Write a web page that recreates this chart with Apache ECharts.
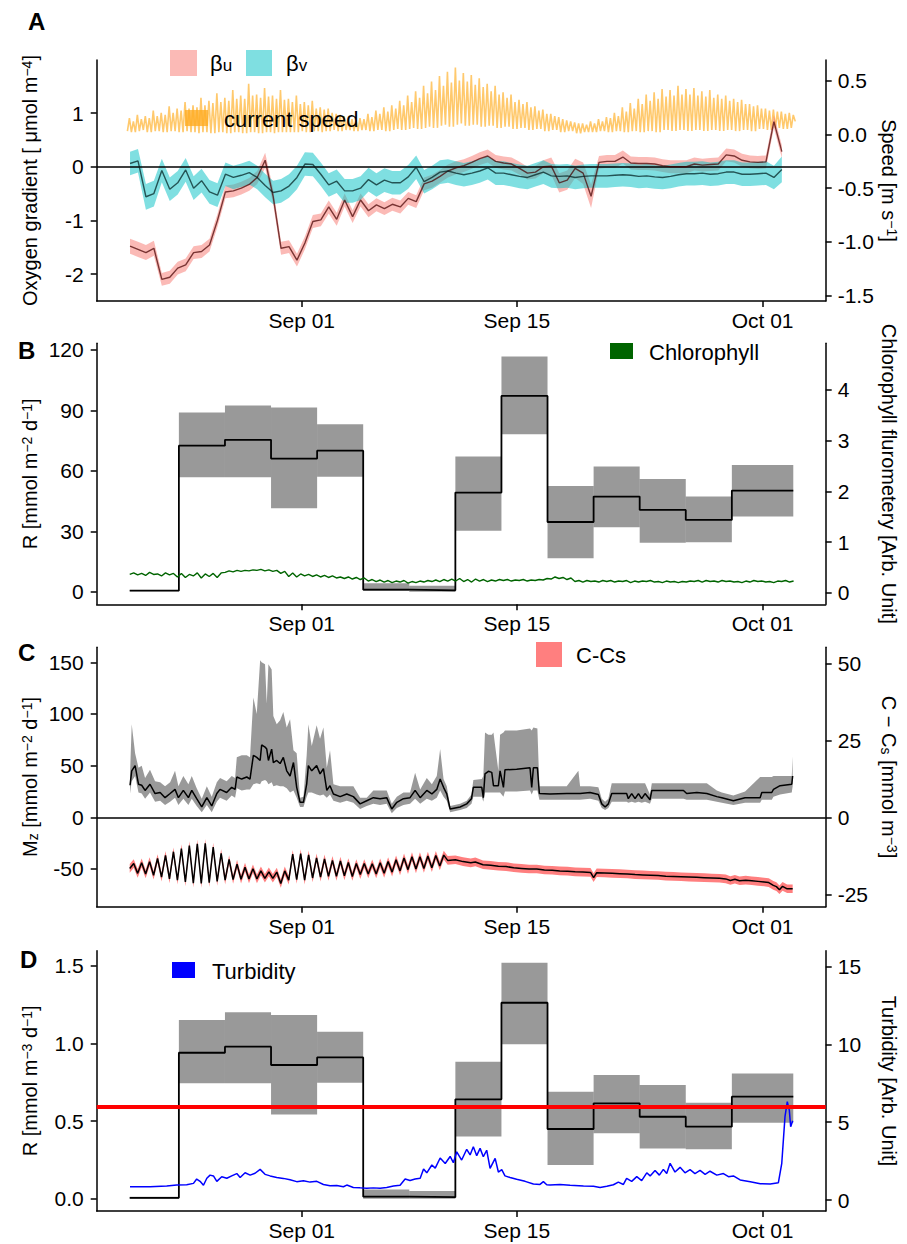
<!DOCTYPE html>
<html><head><meta charset="utf-8">
<script src="https://cdn.jsdelivr.net/npm/echarts@6/dist/echarts.min.js"></script>
<style>html,body{margin:0;padding:0;background:#fff}#c{width:907px;height:1244px}</style>
</head><body><div id="c"></div>
<script>
// ================= DATA (days relative to Sep 01) =================
const xTickDays = [0, 14, 30];
const xTickLabels = ['Sep 01', 'Sep 15', 'Oct 01'];

// Panel A: tidal-cycle regression coefficients (one value per M2 cycle)
const betaStart = -11.18, betaStep = 0.5175;
const betaU = [-1.48,-1.54,-1.60,-1.52,-2.10,-2.06,-1.89,-1.83,-1.60,-1.58,-1.46,-1.00,-0.47,-0.45,-0.40,-0.33,-0.20,0.12,-0.55,-1.52,-1.49,-1.74,-1.42,-1.02,-0.99,-0.75,-0.98,-0.62,-0.93,-0.62,-0.82,-0.71,-0.78,-0.70,-0.75,-0.59,-0.65,-0.32,-0.27,-0.18,-0.08,-0.02,
  0.02,0.08,0.15,0.20,0.10,0.07,0.05,-0.03,-0.12,-0.10,0.00,0.01,-0.30,-0.25,-0.03,-0.12,-0.55,0.08,0.10,0.10,0.18,0.07,0.06,0.06,0.05,0.02,0.00,0.00,0.00,0.05,0.03,0.04,0.05,0.22,0.20,0.12,0.09,0.08,0.09,0.84,0.28];
const betaUErr = [0.14,0.14,0.14,0.14,0.12,0.12,0.12,0.12,0.12,0.12,0.12,0.12,0.12,0.12,0.12,0.12,0.12,0.14,0.14,0.12,0.12,0.12,0.12,0.12,0.12,0.12,0.12,0.12,0.12,0.12,0.12,0.12,0.12,0.12,0.12,0.12,0.12,0.12,0.12,0.12,0.12,0.12,
  0.12,0.12,0.12,0.12,0.12,0.12,0.12,0.12,0.12,0.12,0.12,0.16,0.18,0.18,0.18,0.20,0.22,0.12,0.12,0.12,0.12,0.12,0.12,0.12,0.12,0.12,0.12,0.12,0.12,0.12,0.12,0.12,0.12,0.12,0.12,0.12,0.12,0.12,0.12,0.12,0.12];
const betaV = [0.06,0.11,-0.56,-0.50,-0.07,-0.42,-0.30,-0.06,-0.40,-0.26,-0.47,-0.53,-0.14,-0.20,-0.16,-0.11,-0.20,-0.35,-0.48,-0.45,-0.36,-0.20,0.05,0.04,-0.14,-0.34,-0.27,-0.45,-0.45,-0.40,-0.24,-0.34,-0.25,-0.30,-0.30,-0.19,-0.01,-0.28,-0.20,-0.10,-0.08,-0.12,
  -0.15,-0.12,-0.08,-0.02,-0.12,-0.12,-0.15,-0.18,-0.20,-0.15,-0.10,-0.17,-0.18,-0.17,-0.20,-0.18,-0.17,-0.17,-0.17,-0.16,-0.15,-0.16,-0.18,-0.17,-0.19,-0.20,-0.18,-0.15,-0.13,-0.13,-0.12,-0.14,-0.13,-0.10,-0.10,-0.14,-0.14,-0.13,-0.12,-0.20,-0.05];
const betaVErr = [0.22,0.22,0.24,0.24,0.22,0.22,0.22,0.22,0.22,0.22,0.22,0.22,0.22,0.22,0.22,0.22,0.22,0.22,0.22,0.22,0.22,0.22,0.22,0.22,0.22,0.22,0.22,0.22,0.22,0.22,0.22,0.22,0.22,0.22,0.22,0.22,0.22,0.22,0.22,0.22,0.22,0.22,
  0.22,0.22,0.22,0.22,0.22,0.22,0.22,0.22,0.22,0.22,0.22,0.22,0.22,0.22,0.22,0.22,0.22,0.22,0.22,0.22,0.22,0.22,0.22,0.22,0.22,0.22,0.22,0.22,0.22,0.22,0.22,0.22,0.22,0.22,0.22,0.22,0.22,0.22,0.22,0.22,0.24];

// Panel A: current speed, quarter tidal-cycle extremes (slack / flood / slack / ebb)
const speedStart = -11.35, speedStep = 0.1294;
const speed = [
  0.03,0.15,0.02,0.12, 0.02,0.18,0.03,0.14, 0.04,0.17,0.02,0.15, 0.02,0.22,0.03,0.17, 0.03,0.20,0.02,0.18,
  0.02,0.26,0.03,0.20, 0.03,0.24,0.02,0.22, 0.02,0.30,0.03,0.24, 0.02,0.27,0.02,0.25, 0.01,0.34,0.02,0.27,
  0.02,0.31,0.01,0.29, 0.01,0.38,0.02,0.30, 0.02,0.34,0.01,0.31, 0.01,0.41,0.02,0.33, 0.02,0.36,0.01,0.33,
  0.01,0.47,0.02,0.36, 0.02,0.37,0.01,0.34, 0.01,0.43,0.02,0.35, 0.02,0.36,0.01,0.33, 0.02,0.41,0.02,0.32,
  0.02,0.33,0.02,0.30, 0.02,0.36,0.02,0.28, 0.03,0.30,0.02,0.27, 0.02,0.31,0.03,0.24, 0.03,0.25,0.02,0.23,
  0.03,0.24,0.03,0.20, 0.04,0.19,0.03,0.18, 0.03,0.17,0.04,0.15, 0.04,0.14,0.03,0.13, 0.03,0.15,0.04,0.14,
  0.04,0.19,0.03,0.16, 0.03,0.22,0.04,0.19, 0.04,0.25,0.03,0.21, 0.03,0.27,0.04,0.24, 0.05,0.31,0.04,0.27,
  0.04,0.36,0.05,0.30, 0.06,0.40,0.05,0.34, 0.05,0.45,0.06,0.38, 0.07,0.49,0.06,0.41, 0.06,0.54,0.08,0.45,
  0.09,0.58,0.07,0.48, 0.07,0.62,0.09,0.50, 0.10,0.57,0.08,0.49, 0.08,0.55,0.09,0.46, 0.09,0.52,0.07,0.44,
  0.07,0.47,0.08,0.40, 0.08,0.45,0.06,0.37, 0.06,0.39,0.07,0.34, 0.07,0.37,0.05,0.30, 0.05,0.32,0.06,0.28,
  0.06,0.30,0.04,0.25, 0.04,0.26,0.05,0.22, 0.05,0.23,0.03,0.19, 0.03,0.19,0.04,0.17, 0.04,0.16,0.02,0.14,
  0.02,0.13,0.03,0.12, 0.03,0.11,0.01,0.10, 0.01,0.10,0.02,0.09, 0.02,0.12,0.02,0.10, 0.02,0.14,0.03,0.12,
  0.03,0.16,0.02,0.15, 0.02,0.20,0.03,0.17, 0.03,0.25,0.02,0.21, 0.02,0.29,0.03,0.24, 0.03,0.33,0.02,0.28,
  0.02,0.37,0.03,0.31, 0.03,0.39,0.02,0.33, 0.02,0.42,0.04,0.35, 0.04,0.41,0.03,0.36, 0.03,0.45,0.04,0.37,
  0.04,0.42,0.03,0.37, 0.03,0.43,0.04,0.36, 0.04,0.40,0.03,0.35, 0.03,0.41,0.04,0.34, 0.04,0.37,0.03,0.33,
  0.03,0.36,0.04,0.31, 0.04,0.33,0.03,0.30, 0.03,0.32,0.04,0.28, 0.04,0.28,0.03,0.26, 0.03,0.27,0.05,0.24,
  0.05,0.24,0.04,0.22, 0.04,0.23,0.06,0.21, 0.06,0.21,0.05,0.19, 0.05,0.20,0.06,0.18,
  0.12];

// 3-day periods for R estimates (panels B and D)
const periodBounds = [-11.2, -8, -5, -2, 1, 4, 7, 10, 13, 16, 19, 22, 25, 28, 32];
const respB   = [0.5, 72.5, 75.4, 66.1, 70.0, 1.0, 0.7, 49.2, 97.2, 34.6, 47.2, 40.6, 35.6, 50.2];
const respBLo = [0.2, 56.8, 56.8, 41.4, 57.1, 0.3, 0.0, 30.3, 78.2, 16.6, 32.0, 24.3, 24.5, 37.3];
const respBHi = [0.8, 88.9, 92.4, 91.4, 83.1, 4.2, 3.0, 67.1, 116.7, 52.5, 62.1, 56.0, 47.2, 62.9];

// Panel B: chlorophyll fluorometry
const chlStart = -11.2, chlStep = 0.2588;
const chl = [0.36,0.39,0.35,0.38,0.34,0.40,0.36,0.37,0.33,0.39,0.35,0.38,
  0.31,0.38,0.30,0.36,0.33,0.39,0.29,0.37,0.32,0.38,0.30,0.39,
  0.40,0.43,0.41,0.44,0.42,0.44,0.43,0.45,0.44,0.46,0.43,0.45,0.42,0.44,
  0.38,0.42,0.32,0.39,0.31,0.37,0.33,0.36,0.32,0.35,
  0.31,0.34,0.30,0.33,0.29,0.31,0.28,0.31,0.27,0.30,0.26,0.29,
  0.23,0.26,0.22,0.25,0.21,0.24,0.20,0.23,0.21,0.24,0.19,0.22,0.20,0.23,0.21,0.24,0.22,0.25,0.22,0.26,0.23,0.27,
  0.23,0.28,0.22,0.26,0.21,0.27,0.23,0.26,0.22,0.25,0.23,0.26,0.24,0.26,0.23,0.25,0.24,0.26,0.23,0.25,0.24,0.26,
  0.25,0.28,0.27,0.31,0.28,0.30,0.26,0.29,
  0.22,0.24,0.21,0.24,0.22,0.23,0.21,0.24,0.22,0.24,0.21,0.23,0.22,0.24,0.20,0.23,0.21,0.23,0.22,0.24,0.21,0.22,0.20,0.23,0.21,0.22,0.20,0.22,
  0.21,0.23,0.22,0.24,0.21,0.24,0.22,0.23,0.21,0.24,0.22,0.23,0.21,0.22,0.20,0.23,0.21,0.24,0.22,0.23,0.21,0.22,0.20,0.23,0.22,0.24,0.21,0.23];

// Panel C: Mz flux with uncertainty
const mzDay = [-11.18,-11.07,-10.85,-10.63,-10.42,-10.20,-9.88,-9.55,-9.22,-8.90,-8.57,-8.25,-8.03,-7.71,-7.38,-7.16,-6.84,-6.51,-6.18,-5.86,-5.53,-5.32,-4.89,-4.56,-4.34,-4.23,-3.91,-3.58,-3.37,-3.15,-2.93,-2.71,-2.61,-2.39,-2.28,-2.17,-1.96,-1.85,-1.63,-1.41,-1.20,-0.98,-0.76,-0.54,-0.33,-0.11,0.11,0.32,0.43,0.65,0.97,1.19,1.41,1.63,1.84,2.06,2.50,2.93,3.36,3.80,4.23,4.66,5.10,5.53,5.86,6.19,6.62,7.05,7.38,7.71,8.14,8.47,8.79,9.01,9.23,9.44,9.66,
  10.31,10.74,11.05,11.17,11.72,11.82,11.93,12.15,12.37,12.48,12.80,12.91,13.13,13.23,13.99,14.86,14.97,15.08,15.34,15.47,16.16,17.25,18.01,18.12,18.77,19.31,19.53,19.75,19.96,20.18,21.15,21.26,21.48,21.70,21.92,22.13,22.35,22.67,22.79,24.85,25.06,25.72,26.37,27.02,27.35,28.10,28.86,29.84,29.95,30.60,30.71,31.14,31.90,31.96];
const mzVal = [31,45,50,32,31,26,32,23,24,19,23,27,19,26,19,26,18,10,19,11,23,27,24,29,27,39,37,39,37,60,58,55,70,68,66,55,66,53,55,52,58,45,40,53,29,14.5,14.5,32,50,45,50,42,47,26,30.6,22.6,20,22.6,20,13,16,19,18,19,8,14.5,18,19,26,19,26,22.6,27,37,29,22.6,8,
  10,13,18,29,29,19,42,44.5,43.5,30.6,30.6,45,29,46,46.5,48,29,48,48,23,22.6,23,23,23,24,22,13,10,13,23,23,18,23,18,23,18,23,17,26,26,23,24,23,20,19,16,19,19,24,24,27,30.6,32,40];
const mzLo = [23,35,40,24,23,18,24,15,16,12,15,19,12,18,12,18,11,5,12,5,15,19,16,21,19,28,26,27,27,32,33,32,35,36,35,32,34,30,31,30,30,28,24,26,19,10,10,20,24,24,22,21,22,19,22,16,14,16,14,8,11,13,12,13,4,9,12,13,18,13,18,16,19,26,20,16,5,
  7,9,13,20,20,15,24,24,24,24,24,24,20,25,25,26,22,26,26,17,17,17,17,17,18,16,9,7,9,15,15,14,15,14,15,14,15,13,18,18,17,17,17,15,14,12,14,14,17,17,20,22,24,30];
const mzHi = [42,90,62,48,50,38,46,35,34,30,34,45,30,40,32,40,28,18,30,20,34,38,35,40,38,58,60,60,58,116,100,152,150,148,110,148,143,98,90,94,102,87,95,65,62,19,20,60,90,69,89,76,87,48,65,32,30,30,30,19,19,26,26,26,13,20,24,24,43,27,38,32,40,66,37,30,11,
  13,16,22,36,37,40,82,80,80,82,45,80,82,84,84,86,84,87,86,30,30,30,45,30,30,29,18,15,18,33,33,33,33,33,33,33,33,22,33,33,33,33,33,26,24,21,25,39,39,39,40,40,40,59];

// Panel C: C - Cs (tidal extremes first, then hourly-ish values)
const ccsOscStart = -11.2, ccsOscStep = 0.2588;
const ccsOsc = [-16.4,-14.8,-18.0,-14.6,-18.2,-14.2,-18.6,-13.2,-19.2,-12.2,-19.8,-11.0,-20.2,-10.0,-20.8,-9.0,-21.2,-8.4,-21.3,-8.3,
  -21.0,-9.5,-20.6,-11.5,-20.2,-13.5,-20.0,-15.0,-19.9,-16.0,-19.8,-16.5,-19.8,-17.2,-19.6,-17.5,-19.6,-17.6,-21.3,-17.2,
  -20.2,-11.8,-20.0,-11.6,-20.2,-12.0,-19.5,-13.0,-19.2,-13.3,-19.0,-13.8,-19.0,-14.0,-18.8,-14.5,-19.0,-14.8,-18.4,-14.8,
  -18.2,-14.9,-18.2,-14.6,-18.0,-14.2,-17.6,-13.6,-17.2,-13.0,-16.8,-12.6,-16.6,-12.6,-16.4,-12.4,-16.2,-12.2,-15.6,-12.1];
const ccsTailDay = [9.5,10.0,10.5,11.0,11.3,11.8,12.3,12.8,13.3,13.8,14.3,14.8,15.3,15.8,16.3,16.8,17.3,17.8,18.3,18.8,19.0,19.2,19.7,20.2,20.7,21.2,21.7,22.2,22.7,23.2,23.7,24.2,24.7,25.2,25.7,26.2,26.7,27.2,27.6,27.9,28.2,28.5,28.9,29.3,29.7,30.1,30.4,30.7,30.9,31.1,31.3,31.6,31.96];
const ccsTail = [-13.8,-13.6,-14.2,-14.6,-14.3,-15.2,-15.4,-15.7,-15.8,-16.2,-16.4,-16.6,-16.6,-16.9,-17.0,-17.2,-17.3,-17.5,-17.6,-17.7,-19.4,-17.8,-17.9,-18.0,-18.1,-18.2,-18.4,-18.5,-18.6,-18.7,-18.9,-19.0,-19.1,-19.2,-19.3,-19.4,-19.5,-19.6,-19.8,-20.3,-19.9,-20.4,-20.2,-20.4,-20.6,-20.8,-21.0,-21.9,-22.3,-23.3,-22.2,-23.0,-23.0];
const ccsErr = 1.4;

// Panel D: volumetric R per period
const respD   = [0.006, 0.94, 0.979, 0.861, 0.91, 0.013, 0.01, 0.64, 1.262, 0.449, 0.614, 0.528, 0.464, 0.657];
const respDLo = [0.0, 0.743, 0.743, 0.543, 0.747, 0.0, 0.0, 0.40, 0.994, 0.217, 0.421, 0.324, 0.318, 0.489];
const respDHi = [0.012, 1.15, 1.20, 1.183, 1.075, 0.06, 0.05, 0.882, 1.52, 0.689, 0.797, 0.732, 0.618, 0.807];
const respDRef = 0.59;

// Panel D: turbidity
const turbDay = [-11.18,-9.88,-8.79,-8.14,-7.49,-7.05,-6.84,-6.62,-6.40,-6.18,-5.97,-5.75,-5.53,-5.21,-4.88,-4.56,-4.23,-4.01,-3.69,-3.36,-3.04,-2.71,-2.39,-2.06,-1.63,-1.20,-0.76,-0.33,0.11,0.54,0.98,1.41,1.84,2.28,2.71,2.93,3.36,3.80,4.23,4.66,5.10,5.53,5.97,6.40,6.73,7.05,7.38,7.71,7.93,8.14,8.47,8.69,9.01,9.34,9.66,9.87,10.09,10.41,10.74,10.96,11.17,11.39,11.61,11.82,12.04,12.26,12.59,12.80,13.02,13.23,13.56,13.99,14.54,15.08,15.51,15.73,15.95,16.16,16.81,17.47,18.34,18.99,19.42,19.86,20.29,20.61,20.94,21.15,21.48,21.81,22.13,22.46,22.68,23.00,23.28,23.54,23.76,23.98,24.30,24.63,24.95,25.28,25.60,25.93,26.26,26.58,27.02,27.45,27.78,28.10,28.54,29.20,29.85,30.50,31.03,31.25,31.46,31.61,31.74,31.83,31.96];
const turb = [0.86,0.86,0.90,0.96,0.98,1.07,1.35,1.20,0.95,1.40,1.60,1.55,1.20,1.50,1.40,1.55,1.70,1.45,1.75,1.60,1.72,1.97,1.65,1.55,1.45,1.39,1.30,1.18,1.24,1.15,1.20,1.00,0.92,0.93,0.85,0.96,0.80,0.78,0.75,0.78,0.75,0.80,0.90,0.95,1.35,1.25,1.35,1.40,2.00,1.75,2.25,2.05,2.70,2.35,2.80,2.40,3.10,2.57,3.26,2.90,3.43,2.85,3.32,2.78,3.20,2.03,2.68,1.80,1.95,1.55,1.45,1.33,1.20,1.03,1.00,1.18,0.98,0.96,1.00,0.95,0.90,0.88,0.81,0.88,0.98,1.15,1.00,1.39,1.20,1.50,1.25,1.75,1.55,1.90,1.60,1.97,1.70,2.36,1.80,2.10,1.75,1.95,1.70,1.90,1.65,1.85,1.60,1.70,1.50,1.55,1.29,1.18,1.05,1.03,1.11,2.36,5.36,6.32,5.78,4.71,5.10];

// ================= BUILD =================
const FF = '"Liberation Sans", Arial, Helvetica, sans-serif';
const AXC = '#000';
const xMin = -13.35, xMax = 34.11;

function seqDays(start, step, n) { const a = []; for (let i = 0; i < n; i++) a.push(start + i * step); return a; }
function pairs(xs, ys) { return xs.map((x, i) => [x, ys[i]]); }
function stepPts(bounds, vals) { const p = []; vals.forEach((v, i) => { p.push([bounds[i], v]); p.push([bounds[i + 1], v]); }); return p; }

const betaDays = seqDays(betaStart, betaStep, betaU.length);
const speedDays = seqDays(speedStart, speedStep, speed.length);
const chlDays = seqDays(chlStart, chlStep, chl.length);
const ccsDays = seqDays(ccsOscStart, ccsOscStep, ccsOsc.length).concat(ccsTailDay);
const ccsVals = ccsOsc.concat(ccsTail);

function ribbon(xi, yi, xs, lo, hi, fill, z) {
  return { type: 'custom', xAxisIndex: xi, yAxisIndex: yi, silent: true, clip: true, z: z,
    data: [[xs[0], lo[0]]],
    renderItem: function (params, api) {
      if (params.dataIndex !== 0) return null;
      const pts = [];
      for (let i = 0; i < xs.length; i++) pts.push(api.coord([xs[i], hi[i]]));
      for (let i = xs.length - 1; i >= 0; i--) pts.push(api.coord([xs[i], lo[i]]));
      return { type: 'polygon', shape: { points: pts }, style: { fill: fill } };
    } };
}
function rects(xi, yi, bounds, lo, hi, fill, z) {
  return { type: 'custom', xAxisIndex: xi, yAxisIndex: yi, silent: true, clip: true, z: z,
    encode: { x: [0, 1], y: [2, 3] },
    data: lo.map((l, i) => [bounds[i], bounds[i + 1], l, hi[i]]),
    renderItem: function (params, api) {
      const a = api.coord([api.value(0), api.value(3)]);
      const b = api.coord([api.value(1), api.value(2)]);
      return { type: 'rect', shape: { x: a[0], y: a[1], width: b[0] - a[0], height: b[1] - a[1] }, style: { fill: fill } };
    } };
}
function line(xi, yi, data, color, width, z, extra) {
  return Object.assign({ type: 'line', xAxisIndex: xi, yAxisIndex: yi, data: data, showSymbol: false, symbol: 'none',
    lineStyle: { color: color, width: width }, itemStyle: { color: color }, silent: true, clip: true, z: z }, extra || {});
}
function hline(value, color, width) {
  return { symbol: 'none', silent: true, label: { show: false }, animation: false,
    lineStyle: { color: color, width: width, type: 'solid' }, data: [{ yAxis: value }] };
}

const richName = {
  sup: { fontSize: 14, fontFamily: FF, color: '#000', verticalAlign: 'top' },
  sub: { fontSize: 14, fontFamily: FF, color: '#000', verticalAlign: 'bottom' }
};

function xAxisDef(gi) {
  return { type: 'value', gridIndex: gi, min: xMin, max: xMax,
    axisLine: { show: true, onZero: false, lineStyle: { color: AXC, width: 1.5 } },
    axisTick: { show: true, length: 6, customValues: xTickDays, lineStyle: { color: AXC, width: 1.5 } },
    axisLabel: { show: true, customValues: xTickDays, margin: 9, fontSize: 21, fontFamily: FF, color: '#000',
      formatter: function (v) { let k = 0; xTickDays.forEach((d, i) => { if (Math.abs(d - v) < Math.abs(xTickDays[k] - v)) k = i; }); return xTickLabels[k]; } },
    splitLine: { show: false } };
}
function yAxisDef(gi, pos, min, max, ticks, fmt, name) {
  const left = pos === 'left';
  return { type: 'value', gridIndex: gi, position: pos, min: min, max: max,
    axisLine: { show: true, onZero: false, lineStyle: { color: AXC, width: 1.5 } },
    axisTick: { show: true, length: 6, customValues: ticks, lineStyle: { color: AXC, width: 1.5 } },
    axisLabel: { show: true, customValues: ticks, margin: left ? 13 : 12, fontSize: 21, fontFamily: FF, color: '#000', formatter: fmt },
    splitLine: { show: false },
    name: name, nameLocation: 'middle', nameRotate: left ? 90 : -90, nameGap: left ? 57 : 53, nameMoveOverlap: false,
    nameTextStyle: { fontSize: 20, fontFamily: FF, color: '#000', rich: richName } };
}
const fInt = v => String(v);
const f1 = v => v.toFixed(1);

const gridBase = { left: 96.7, right: 81.3, outerBoundsMode: 'none', containLabel: false };
const option = {
  animation: false,
  backgroundColor: '#fff',
  grid: [
    Object.assign({ top: 60, height: 241 }, gridBase),
    Object.assign({ top: 343.3, height: 261 }, gridBase),
    Object.assign({ top: 647.3, height: 259.4 }, gridBase),
    Object.assign({ top: 950.7, height: 260.3 }, gridBase)
  ],
  xAxis: [xAxisDef(0), xAxisDef(1), xAxisDef(2), xAxisDef(3)],
  yAxis: [
    yAxisDef(0, 'left', -2.502, 1.988, [-2, -1, 0, 1], fInt, 'Oxygen gradient [ \u03bcmol m{sup|\u22124}]'),
    yAxisDef(0, 'right', -1.548, 0.690, [-1.5, -1, -0.5, 0, 0.5], f1, 'Speed [m s{sup|\u22121}]'),
    yAxisDef(1, 'left', -6.26, 123.3, [0, 30, 60, 90, 120], fInt, 'R [mmol m{sup|\u22122} d{sup|\u22121}]'),
    yAxisDef(1, 'right', -0.229, 4.92, [0, 1, 2, 3, 4], fInt, 'Chlorophyll flurometery [Arb. Unit]'),
    yAxisDef(2, 'left', -86.5, 164.5, [-50, 0, 50, 100, 150], fInt, 'M{sub|z} [mmol m{sup|\u22122} d{sup|\u22121}]'),
    yAxisDef(2, 'right', -28.8, 55.2, [-25, 0, 25, 50], fInt, 'C \u2212 C{sub|s} [mmol m{sup|\u22123}]'),
    yAxisDef(3, 'left', -0.079, 1.597, [0, 0.5, 1, 1.5], f1, 'R [mmol m{sup|\u22123} d{sup|\u22121}]'),
    yAxisDef(3, 'right', -0.707, 16.03, [0, 5, 10, 15], fInt, 'Turbidity [Arb. Unit]')
  ],
  series: [
    // Panel A
    line(0, 1, pairs(speedDays, speed), 'rgba(255,172,30,0.65)', 1.6, 2),
    ribbon(0, 0, betaDays, betaU.map((v, i) => v - betaUErr[i]), betaU.map((v, i) => v + betaUErr[i]), 'rgba(248,118,109,0.5)', 3),
    ribbon(0, 0, betaDays, betaV.map((v, i) => v - betaVErr[i]), betaV.map((v, i) => v + betaVErr[i]), 'rgba(0,191,196,0.5)', 4),
    line(0, 0, pairs(betaDays, betaU), 'rgba(70,0,0,0.72)', 1.4, 5, { markLine: hline(0, '#000', 1.6) }),
    line(0, 0, pairs(betaDays, betaV), 'rgba(0,30,30,0.72)', 1.4, 5),
    // Panel B
    rects(1, 2, periodBounds, respBLo, respBHi, 'rgba(0,0,0,0.4)', 2),
    line(1, 2, stepPts(periodBounds, respB), '#000', 1.8, 3),
    line(1, 3, pairs(chlDays, chl), '#006400', 1.4, 4),
    // Panel C
    ribbon(2, 4, mzDay, mzLo, mzHi, 'rgba(0,0,0,0.4)', 2),
    ribbon(2, 5, ccsDays, ccsVals.map(v => v - ccsErr), ccsVals.map(v => v + ccsErr), 'rgba(255,0,0,0.5)', 2),
    line(2, 4, pairs(mzDay, mzVal), '#000', 1.5, 3, { markLine: hline(0, '#000', 1.6) }),
    line(2, 5, pairs(ccsDays, ccsVals), '#000', 1.5, 3),
    // Panel D
    line(3, 6, stepPts(periodBounds, respD), '#000', 1.8, 1, { markLine: hline(respDRef, '#FF0000', 4) }),
    rects(3, 6, periodBounds, respDLo, respDHi, 'rgba(0,0,0,0.4)', 2),
    line(3, 7, pairs(turbDay, turb), '#0000FF', 1.5, 4)
  ],
  graphic: [
    { type: 'text', x: 28, y: 21.5, z: 100, style: { text: 'A', font: 'bold 24px ' + FF, fill: '#000', verticalAlign: 'middle', textVerticalAlign: 'middle' } },
    { type: 'text', x: 18, y: 350.5, z: 100, style: { text: 'B', font: 'bold 24px ' + FF, fill: '#000', verticalAlign: 'middle', textVerticalAlign: 'middle' } },
    { type: 'text', x: 18, y: 652.5, z: 100, style: { text: 'C', font: 'bold 24px ' + FF, fill: '#000', verticalAlign: 'middle', textVerticalAlign: 'middle' } },
    { type: 'text', x: 20, y: 959.5, z: 100, style: { text: 'D', font: 'bold 24px ' + FF, fill: '#000', verticalAlign: 'middle', textVerticalAlign: 'middle' } },
    // legend A
    { type: 'rect', z: 100, shape: { x: 170, y: 50, width: 27, height: 26 }, style: { fill: 'rgba(248,118,109,0.5)' } },
    { type: 'text', x: 210, y: 63, z: 100, style: { text: '\u03b2{s|u}', font: '22px ' + FF, fill: '#000', verticalAlign: 'middle', textVerticalAlign: 'middle',
      rich: { s: { fontSize: 17, fontFamily: FF, fill: '#000', verticalAlign: 'bottom' } } } },
    { type: 'rect', z: 100, shape: { x: 246, y: 50, width: 26, height: 26 }, style: { fill: 'rgba(0,191,196,0.5)' } },
    { type: 'text', x: 286, y: 63, z: 100, style: { text: '\u03b2{s|v}', font: '22px ' + FF, fill: '#000', verticalAlign: 'middle', textVerticalAlign: 'middle',
      rich: { s: { fontSize: 17, fontFamily: FF, fill: '#000', verticalAlign: 'bottom' } } } },
    { type: 'rect', z: 100, shape: { x: 185, y: 110, width: 23, height: 16 }, style: { fill: 'rgba(255,170,30,0.75)' } },
    { type: 'text', x: 224, y: 119, z: 100, style: { text: 'current speed', font: '22px ' + FF, fill: '#000', verticalAlign: 'middle', textVerticalAlign: 'middle' } },
    // legend B
    { type: 'rect', z: 100, shape: { x: 610, y: 343, width: 23, height: 16 }, style: { fill: '#006400' } },
    { type: 'text', x: 649, y: 352, z: 100, style: { text: 'Chlorophyll', font: '22px ' + FF, fill: '#000', verticalAlign: 'middle', textVerticalAlign: 'middle' } },
    // legend C
    { type: 'rect', z: 100, shape: { x: 536, y: 642, width: 26, height: 25 }, style: { fill: 'rgba(255,0,0,0.5)' } },
    { type: 'text', x: 576, y: 655, z: 100, style: { text: 'C-Cs', font: '22px ' + FF, fill: '#000', verticalAlign: 'middle', textVerticalAlign: 'middle' } },
    // legend D
    { type: 'rect', z: 100, shape: { x: 172, y: 962, width: 23, height: 16 }, style: { fill: '#0000FF' } },
    { type: 'text', x: 212, y: 971, z: 100, style: { text: 'Turbidity', font: '22px ' + FF, fill: '#000', verticalAlign: 'middle', textVerticalAlign: 'middle' } }
  ]
};

const chart = echarts.init(document.getElementById('c'), null, { renderer: 'svg', width: 907, height: 1244 });
chart.setOption(option);
</script>
</body></html>
